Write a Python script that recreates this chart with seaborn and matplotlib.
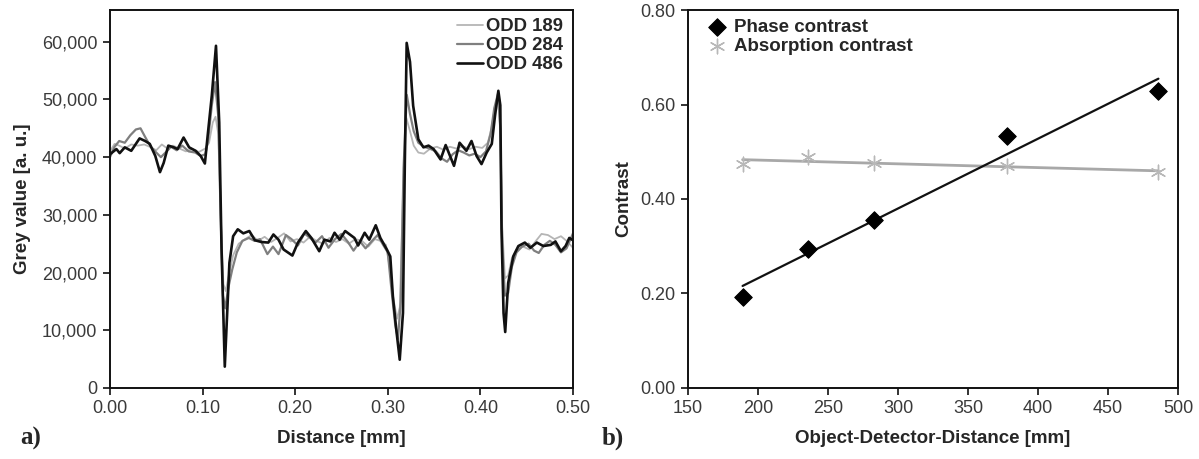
import numpy as np
import pandas as pd
import matplotlib
matplotlib.use('Agg')
import matplotlib.pyplot as plt
import seaborn as sns
from matplotlib.ticker import FuncFormatter, MultipleLocator

# --- profile data (a) ---
odd189_x = [0.000, 0.005, 0.010, 0.016, 0.023, 0.030, 0.037, 0.043, 0.050, 0.056, 0.062, 0.068,
            0.075, 0.082, 0.089, 0.096, 0.103, 0.107, 0.111, 0.114, 0.117, 0.1195, 0.1225, 0.125,
            0.129, 0.133, 0.139, 0.146, 0.153, 0.160, 0.167, 0.174, 0.181, 0.188, 0.195, 0.202,
            0.209, 0.216, 0.223, 0.230, 0.237, 0.244, 0.251, 0.258, 0.265, 0.272, 0.279, 0.286,
            0.292, 0.298, 0.302, 0.306, 0.310, 0.313, 0.3165, 0.320, 0.324, 0.328, 0.333, 0.339,
            0.346, 0.353, 0.360, 0.367, 0.374, 0.381, 0.388, 0.395, 0.402, 0.408, 0.412, 0.4155,
            0.419, 0.4215, 0.4235, 0.4265, 0.430, 0.434, 0.439, 0.446, 0.453, 0.460, 0.466, 0.473,
            0.480, 0.487, 0.493, 0.500]
odd189_y = [41000, 42300, 42000, 41500, 42200, 42000, 42200, 41800, 41200, 42200, 41500, 42000,
            41500, 41000, 41400, 40900, 41500, 42500, 46000, 47000, 44000, 30000, 18000, 16800,
            20000, 23000, 25000, 25800, 26500, 25500, 26200, 25300, 26000, 26800, 25400, 25800,
            25200, 26200, 25500, 25000, 26000, 25300, 25800, 25000, 25800, 25500, 24500, 25800,
            25500, 24800, 21000, 15500, 12000, 14000, 34000, 46800, 44500, 42000, 40800, 40600,
            41500, 41800, 41300, 41800, 41500, 41900, 41400, 41800, 41600, 42500, 45000, 48500,
            50000, 45000, 28000, 19000, 19500, 22500, 24000, 24500, 24000, 25500, 26700, 26500,
            25800, 26300, 25500, 24300]

odd284_x = [0.000, 0.005, 0.010, 0.016, 0.022, 0.028, 0.033, 0.038, 0.044, 0.050, 0.055, 0.060,
            0.066, 0.072, 0.078, 0.085, 0.092, 0.098, 0.103, 0.106, 0.110, 0.1135, 0.117, 0.1195,
            0.122, 0.1245, 0.128, 0.132, 0.137, 0.143, 0.150, 0.156, 0.162, 0.170, 0.176, 0.182,
            0.190, 0.196, 0.203, 0.210, 0.216, 0.222, 0.229, 0.236, 0.243, 0.250, 0.257, 0.263,
            0.270, 0.276, 0.283, 0.289, 0.295, 0.300, 0.304, 0.308, 0.311, 0.314, 0.317, 0.3205,
            0.324, 0.328, 0.333, 0.339, 0.345, 0.352, 0.358, 0.364, 0.370, 0.376, 0.382, 0.388,
            0.394, 0.400, 0.406, 0.411, 0.415, 0.419, 0.4215, 0.4235, 0.4265, 0.430, 0.434, 0.439,
            0.445, 0.452, 0.458, 0.463, 0.469, 0.475, 0.481, 0.487, 0.493, 0.500]
odd284_y = [40000, 41800, 42800, 42500, 43800, 44800, 45000, 43500, 41800, 40800, 40000, 40800,
            41800, 41200, 42000, 41000, 40800, 40200, 40500, 43000, 49000, 53000, 47000, 30000,
            16000, 13800, 17500, 20500, 23500, 25500, 26000, 25500, 25800, 23200, 24500, 23200,
            26500, 25800, 24700, 26800, 26000, 25200, 26300, 24300, 25800, 26700, 25300, 23800,
            25400, 24200, 25500, 26500, 24800, 23500, 17000, 11000, 8500, 15000, 38000, 50800,
            47500, 44500, 42500, 41800, 41500, 41000, 39800, 39200, 40500, 41200, 40800, 40300,
            40600, 40000, 41000, 44000, 48500, 51000, 45000, 25000, 16000, 16500, 21000, 23500,
            24500, 25000, 23800, 23400, 24800, 25500, 24800, 23500, 24200, 26800]

odd486_x = [0.000, 0.007, 0.0105, 0.016, 0.023, 0.032, 0.038, 0.043, 0.049, 0.054, 0.058, 0.063,
            0.069, 0.073, 0.0795, 0.0855, 0.0925, 0.098, 0.1025, 0.1055, 0.110, 0.1145, 0.118,
            0.1205, 0.124, 0.129, 0.133, 0.138, 0.144, 0.1505, 0.1565, 0.1635, 0.171, 0.1765,
            0.182, 0.1875, 0.197, 0.203, 0.2115, 0.2175, 0.226, 0.2315, 0.238, 0.2425, 0.248,
            0.254, 0.264, 0.268, 0.275, 0.280, 0.287, 0.292, 0.299, 0.3027, 0.3055, 0.3092,
            0.3129, 0.3164, 0.3184, 0.3204, 0.3240, 0.3274, 0.3330, 0.3385, 0.3440, 0.3495,
            0.3570, 0.3625, 0.3680, 0.3715, 0.3775, 0.3849, 0.3904, 0.3959, 0.4012, 0.4068,
            0.4123, 0.4158, 0.4194, 0.4215, 0.4228, 0.4250, 0.4268, 0.4300, 0.4355, 0.4410,
            0.4480, 0.4540, 0.4610, 0.4680, 0.4760, 0.4810, 0.4870, 0.4920, 0.4960, 0.5000]
odd486_y = [40500, 41400, 40700, 41700, 41100, 43250, 42800, 42300, 40200, 37400, 39000, 42000,
            41700, 41400, 43400, 41700, 41100, 40200, 38900, 43700, 50700, 59300, 46000,
            24000, 3700, 21700, 26300, 27500, 26800, 27200, 25600, 25300, 25200, 26600,
            25700, 24000, 22950, 25200, 27200, 26000, 23700, 25700, 25400, 26900, 25700,
            27200, 26000, 24700, 26900, 25700, 28200, 26000, 24000, 22800, 15900, 10100,
            4900, 13000, 39000, 59800, 56500, 48900, 43100, 41700, 42000, 41400,
            39600, 42100, 39900, 38500, 42500, 41100, 42800, 40200, 38800, 40800,
            42300, 47200, 51500, 49000, 27500, 13000, 9700, 18200, 22800, 24600,
            25200, 24300, 25200, 24600, 24800, 25400, 23700, 24600, 26000, 25600]

profile_labels = ['ODD 189', 'ODD 284', 'ODD 486']
profile_colors = ['#b5b5b5', '#7f7f7f', '#111111']

# --- contrast data (b) ---
odd_mm = [189, 236, 283, 378, 486]
phase_contrast = [0.193, 0.295, 0.356, 0.534, 0.628]
absorption_contrast = [0.4745, 0.4886, 0.4766, 0.4696, 0.457]

sns.set_style('ticks')
plt.rcParams['font.family'] = ['Liberation Sans', 'DejaVu Sans']

fig = plt.figure(figsize=(11.99, 4.59), dpi=100)
ax1 = fig.add_axes([0.0917, 0.1547, 0.3862, 0.8235])
ax2 = fig.add_axes([0.5738, 0.1547, 0.4087, 0.8235])

# a) grey value profiles
series = [(odd189_x, odd189_y, 1.3), (odd284_x, odd284_y, 1.6), (odd486_x, odd486_y, 1.9)]
for (xs, ys, lw), lab, col in zip(series, profile_labels, profile_colors):
    sns.lineplot(x=xs, y=ys, ax=ax1, color=col, lw=lw, label=lab, sort=False, estimator=None)

ax1.set_xlim(0, 0.5)
ax1.set_ylim(0, 65500)
ax1.xaxis.set_major_locator(MultipleLocator(0.1))
ax1.yaxis.set_major_locator(MultipleLocator(10000))
ax1.xaxis.set_major_formatter(FuncFormatter(lambda v, p: f'{v:.2f}'))
ax1.yaxis.set_major_formatter(FuncFormatter(lambda v, p: f'{v:,.0f}'))
ax1.set_xlabel('Distance [mm]', fontsize=13.5, fontweight='bold', labelpad=9)
ax1.set_ylabel('Grey value [a. u.]', fontsize=13.5, fontweight='bold', labelpad=8)
leg1 = ax1.legend(loc='upper right', bbox_to_anchor=(1.006, 1.012), frameon=False, fontsize=13.3,
                  handlelength=1.4, handletextpad=0.15, labelspacing=0.1, borderaxespad=0.3)
for t in leg1.get_texts():
    t.set_fontweight('bold')

# b) contrast vs object-detector distance
sns.regplot(x=odd_mm, y=absorption_contrast, ax=ax2, ci=None, scatter=False,
            line_kws=dict(color='#a8a8a8', lw=2))
sns.regplot(x=odd_mm, y=phase_contrast, ax=ax2, ci=None, scatter=False,
            line_kws=dict(color='#111111', lw=1.6))
sns.scatterplot(x=odd_mm, y=phase_contrast, ax=ax2, marker='D', s=80, color='#000000',
                edgecolor='#000000', label='Phase contrast', zorder=5)
sns.scatterplot(x=odd_mm, y=absorption_contrast, ax=ax2, marker=(6, 2, 0), s=110,
                color='#b8b8b8', linewidth=1.0, label='Absorption contrast', zorder=5)

ax2.set_xlim(150, 500)
ax2.set_ylim(0, 0.8)
ax2.xaxis.set_major_locator(MultipleLocator(50))
ax2.yaxis.set_major_locator(MultipleLocator(0.2))
ax2.yaxis.set_major_formatter(FuncFormatter(lambda v, p: f'{v:.2f}'))
ax2.set_xlabel('Object-Detector-Distance [mm]', fontsize=13.5, fontweight='bold', labelpad=9)
ax2.set_ylabel('Contrast', fontsize=13.5, fontweight='bold', labelpad=6)
leg2 = ax2.legend(loc='upper left', bbox_to_anchor=(0.014, 1.012), frameon=False, fontsize=13.5,
                  handlelength=1.0, handletextpad=0.4, labelspacing=0.1, borderaxespad=0.3)
for t in leg2.get_texts():
    t.set_fontweight('bold')

for ax in (ax1, ax2):
    for sp in ax.spines.values():
        sp.set_visible(True)
        sp.set_linewidth(1.4)
        sp.set_color('#111111')
    ax.tick_params(direction='out', length=5, width=1.2, labelsize=13,
                   labelcolor='#3a3a3a', color='#111111', pad=4)

fig.text(0.017, 0.045, 'a)', family='Liberation Serif', fontweight='bold', fontsize=18, va='center')
fig.text(0.502, 0.045, 'b)', family='Liberation Serif', fontweight='bold', fontsize=18, va='center')

fig.savefig('out.png', dpi=100)
